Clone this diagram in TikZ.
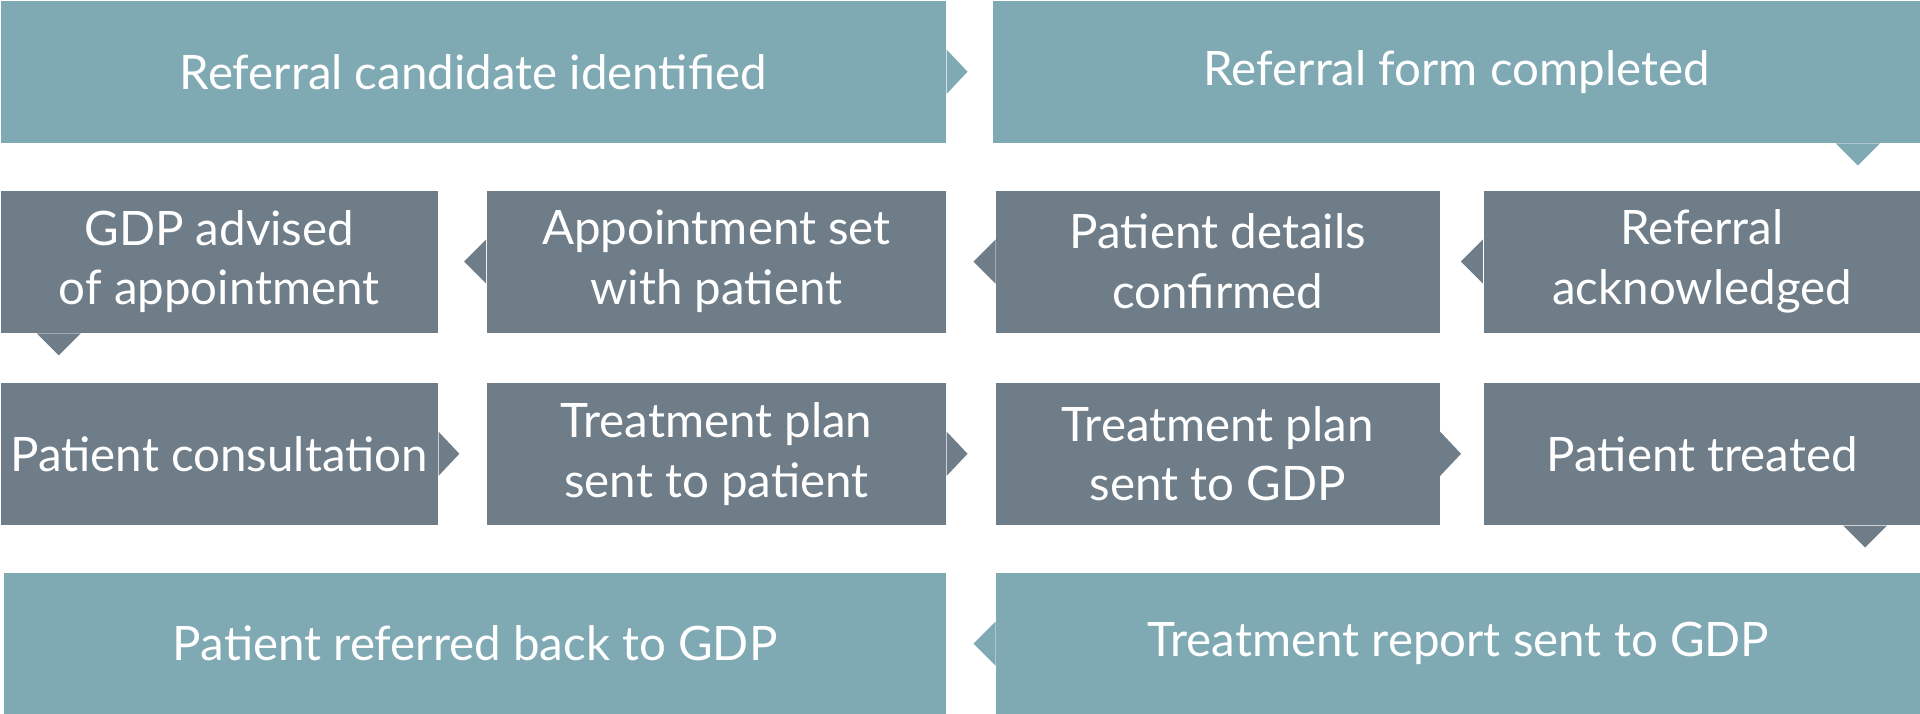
\documentclass[tikz,border=0pt]{standalone}
\usepackage{fontspec}
\setmainfont{Lato}
\definecolor{lightbox}{HTML}{7FA9B3}
\definecolor{darkbox}{HTML}{6E7D88}
\tikzset{
    stage/.style={anchor=north west,inner sep=0pt,align=center,text=white,
        font=\fontsize{13.5}{17}\selectfont,minimum height={116*0.012245cm}},
    light/.style={stage,fill=lightbox},
    dark/.style={stage,fill=darkbox}
}
\begin{document}
\begin{tikzpicture}[x=0.012245cm,y=0.012245cm]
    \useasboundingbox (0,0) rectangle (1568,-583);

    % top row
    \node[light,minimum width={772*0.012245cm}] (cand) at (0,0) {Referral candidate identified};
    \node[light,minimum width={758*0.012245cm}] (form) at (810,0) {Referral form completed};

    % second row
    \node[dark,minimum width={357*0.012245cm}] (gdp adv) at (0,-155) {GDP advised\\of appointment};
    \node[dark,minimum width={375*0.012245cm}] (appt) at (397,-155) {Appointment set\\with patient};
    \node[dark,minimum width={362*0.012245cm}] (details) at (813,-155) {Patient details\\confirmed};
    \node[dark,minimum width={357*0.012245cm}] (ack) at (1211,-155) {Referral\\acknowledged};

    % third row
    \node[dark,minimum width={357*0.012245cm}] (consult) at (0,-312) {Patient consultation};
    \node[dark,minimum width={375*0.012245cm}] (plan pat) at (397,-312) {Treatment plan\\sent to patient};
    \node[dark,minimum width={362*0.012245cm}] (plan gdp) at (813,-312) {Treatment plan\\sent to GDP};
    \node[dark,minimum width={357*0.012245cm}] (treated) at (1211,-312) {Patient treated};

    % bottom row
    \node[light,minimum width={769*0.012245cm}] (back) at (3,-467) {Patient referred back to GDP};
    \node[light,minimum width={755*0.012245cm}] (report) at (813,-467) {Treatment report sent to GDP};

    % right tabs
    \foreach \n/\c in {cand/lightbox,consult/darkbox,plan pat/darkbox,plan gdp/darkbox}
        \fill[\c] ([yshift={18*0.012245cm}]\n.east) -- ++(17,-18) -- ++(-17,-18) -- cycle;
    % left tabs
    \foreach \n/\c in {appt/darkbox,details/darkbox,ack/darkbox,report/lightbox}
        \fill[\c] ([yshift={18*0.012245cm}]\n.west) -- ++(-18,-18) -- ++(18,-18) -- cycle;
    % down tabs
    \fill[lightbox] ([xshift={-70*0.012245cm}]form.south east) -- ++(18,-18) -- ++(18,18) -- cycle;
    \fill[darkbox] ([xshift={30*0.012245cm}]gdp adv.south west) -- ++(18,-18) -- ++(18,18) -- cycle;
    \fill[darkbox] ([xshift={-64*0.012245cm}]treated.south east) -- ++(18,-18) -- ++(18,18) -- cycle;
\end{tikzpicture}
\end{document}
